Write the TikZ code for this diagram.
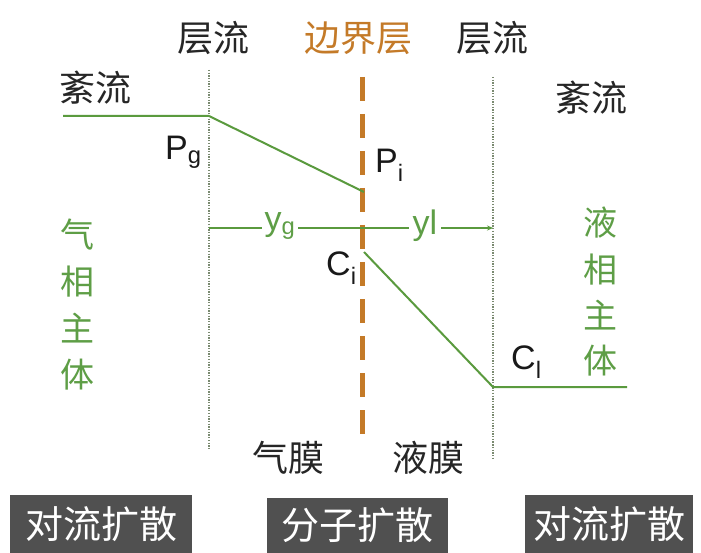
\documentclass[tikz,border=0pt]{standalone}
\usepackage{fontspec}
\setmainfont{Liberation Sans}
\newfontfamily\cjk{Noto Sans CJK SC}
\usetikzlibrary{arrows.meta}
\definecolor{lgreen}{HTML}{5A9A3E}
\definecolor{tgreen}{HTML}{5E9E46}
\definecolor{bound}{HTML}{C47A28}
\definecolor{dotc}{HTML}{7A8A70}
\definecolor{boxc}{HTML}{505050}
\tikzset{
  cn/.style={font=\cjk\fontsize{36}{40}\selectfont, text=black!85, inner sep=0pt},
  gn/.style={font=\cjk\fontsize{34}{38}\selectfont, text=tgreen, inner sep=0pt},
  lat/.style={font=\fontsize{34}{38}\selectfont, text=black!90, inner sep=0pt},
  curve/.style={draw=lgreen, line width=2pt},
  film/.style={draw=dotc, line width=1.3pt, dash pattern=on 1.3pt off 1.4pt},
  iface/.style={draw=bound, line width=5pt, dash pattern=on 24pt off 13pt},
  gbox/.style={fill=boxc, text=white, font=\cjk\fontsize{38}{42}\selectfont, inner sep=0pt, anchor=south}
}
\begin{document}
\begin{tikzpicture}[x=1pt,y=-1pt]
\useasboundingbox (0,0) rectangle (701,553);
\fill[white] (0,0) rectangle (701,553);
% header labels
\node[cn] (lam1) at (213,38) {层流};
\node[cn, text=bound] (bl) at (358,38) {边界层};
\node[cn] (lam2) at (492,38) {层流};
\node[cn] (turb1) at (95,88) {紊流};
\node[cn] (turb2) at (591,98) {紊流};
% films and interface
\coordinate (fl1) at (209,70);
\coordinate (fl2) at (209,450);
\coordinate (fr1) at (493,77);
\coordinate (fr2) at (493,458);
\coordinate (if1) at (362,77);
\coordinate (if2) at (362,446);
\draw[film] (fl1) -- (fl2);
\draw[film] (fr1) -- (fr2);
\draw[iface] (if1) -- (if2);
% gas concentration profile
\coordinate (g0) at (63,116);
\coordinate (g1) at (209,116);
\coordinate (g2) at (364,192);
\draw[curve] (g0) -- (g1) -- (g2);
% liquid concentration profile
\coordinate (l0) at (364,252);
\coordinate (l1) at (493,387);
\coordinate (l2) at (627,387);
\draw[curve] (l0) -- (l1) -- (l2);
% y axis
\coordinate (ya) at (209,228);
\coordinate (yb) at (493,228);
\draw[lgreen, line width=1.8pt, -{Stealth[length=6pt,width=5pt]}] (ya) -- (yb);
\node[lat, text=tgreen, fill=white, inner xsep=3pt] (yg) at (280,226) {y\textsubscript{g}};
\node[lat, text=tgreen, fill=white, inner xsep=4pt] (yl) at (425,226) {yl};
% point labels
\node[lat, anchor=west] (pg) at (165,152) {P\textsubscript{g}};
\node[lat, anchor=west] (pi) at (375,165) {P\textsubscript{i}};
\node[lat, anchor=west] (ci) at (326,268) {C\textsubscript{i}};
\node[lat, anchor=west] (cl) at (511,362) {C\textsubscript{l}};
% bulk labels
\node[gn] (a1) at (77,235) {气};
\node[gn] (a2) at (77,282) {相};
\node[gn] (a3) at (77,328) {主};
\node[gn] (a4) at (77,375) {体};
\node[gn] (b1) at (600,223) {液};
\node[gn] (b2) at (600,270) {相};
\node[gn] (b3) at (600,315) {主};
\node[gn] (b4) at (600,361) {体};
% film labels
\node[cn] (gf) at (288,458) {气膜};
\node[cn] (lf) at (428,458) {液膜};
% bottom boxes
\node[gbox, minimum width=182pt, minimum height=58pt] (d1) at (101,553) {对流扩散};
\node[gbox, minimum width=181pt, minimum height=55pt] (d2) at (357.5,553) {分子扩散};
\node[gbox, minimum width=168pt, minimum height=58pt] (d3) at (609,553) {对流扩散};
\end{tikzpicture}
\end{document}
